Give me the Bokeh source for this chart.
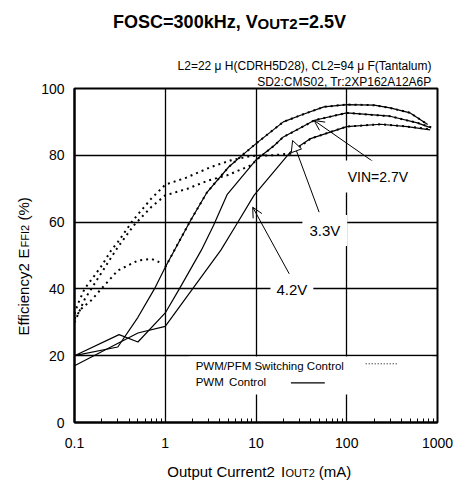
import math
from bokeh.plotting import figure
from bokeh.layouts import row, column
from bokeh.models import (Label, Arrow, OpenHead, NormalHead, BoxAnnotation,
                          FixedTicker, Range1d, Title)
from bokeh.embed import file_html
from bokeh.resources import INLINE

# ---------------- data ----------------
x_ticks = [0.1, 1, 10, 100, 1000]
x_tick_labels = ["0.1", "1", "10", "100", "1000"]
y_ticks = [0, 20, 40, 60, 80, 100]

# PWM control (solid)
pwm_a_x = [0.1, 0.3, 0.5, 0.76, 1.0, 1.9, 2.9, 5.0, 7.4, 10, 20, 31, 56, 100, 200, 300, 500, 780]
pwm_a_eff = [20, 22.6, 31.5, 40, 46.5, 60.5, 69, 76.5, 80.5, 83.5, 90, 92, 94.5, 95.2, 95, 94.2, 92.7, 89.2]

pwm_b_x = [0.1, 0.31, 0.5, 1.0, 1.43, 2.5, 3.4, 4.8, 9.9, 16, 20, 30, 44, 100, 300, 600, 850]
pwm_b_eff = [20, 26.3, 24.1, 32.8, 40, 51.6, 59, 68.2, 78.5, 83, 85.5, 88, 90.5, 92.7, 91.7, 89.7, 88.2]

pwm_c_x = [0.1, 0.5, 1.0, 2.0, 4.1, 6.0, 9.5, 24, 40, 100, 235, 464, 830]
pwm_c_eff = [17, 26.8, 28.8, 40, 51.6, 59, 68, 81, 85, 88.6, 89.3, 88.6, 87.6]

# PWM/PFM switching control (dotted)
pfm_a_x = [0.1, 0.118, 0.152, 0.197, 0.3, 0.5, 0.7, 0.86]
pfm_a_eff = [31, 34, 36.5, 40, 45.5, 48.5, 49, 48]
pfm_a_hi_x = [1.0, 1.9, 2.9, 5.0, 7.4, 10, 20, 31, 56, 100, 200, 300, 500, 780]
pfm_a_hi_eff = [46.5, 60.5, 69, 76.5, 80.5, 83.5, 90, 92, 94.5, 95.2, 95, 94.2, 92.7, 89.2]

pfm_b_x = [0.1, 0.13, 0.2, 0.3, 0.45, 0.7, 1.0, 1.76, 3.0, 4.8, 8.8, 10.5, 16, 20, 30, 44, 100, 300, 600, 900]
pfm_b_eff = [30, 37, 45, 52.5, 59, 64.5, 68, 70, 72.5, 74, 77, 79, 83, 85.5, 88, 90.5, 92.7, 91.7, 89.7, 88.2]

pfm_c_x = [0.1, 0.109, 0.129, 0.166, 0.2, 0.253, 0.3, 0.44, 0.7, 1.0, 1.7, 3.2, 5.3, 8.8, 15, 24, 40, 100, 235, 464, 850]
pfm_c_eff = [32.5, 35.5, 40, 44, 47, 51.5, 54, 60.5, 67, 71.2, 73.3, 76.5, 78.5, 79.8, 80, 80.5, 85, 88.6, 89.3, 88.6, 87.8]

condition_lines = ["L2=22 μ H(CDRH5D28), CL2=94 μ F(Tantalum)", "SD2:CMS02, Tr:2XP162A12A6P"]

# ---------------- layout (page pixels) ----------------
FONT = "Liberation Sans"
PW, PH = 456, 480
LW = 38                          # left strip (y title)
FX0, FY0, FW, FH = 73, 88, 364, 334   # plot frame in page pixels
MT = 34                          # top border of main plot (holds the conditions)
TH = FY0 - MT                    # top strip height (main title)
BY = 455                         # top of bottom strip (x title)
CW = PW - LW
BL = FX0 - LW                    # border left of main plot
BR = CW - BL - FW                # border right of main plot


def dx(X):
    """page pixel x -> data x of the main plot (log axis)"""
    return 10 ** (-1 + 4 * (X - FX0) / FW)


def dy(Y):
    """page pixel y -> data y of the main plot"""
    return 100 * (FY0 + FH - Y) / FH


def strip(w, h, x0, x1, y0, y1, bl=0, br=0):
    """blank figure whose frame uses page-pixel coordinates"""
    f = figure(width=w, height=h, x_range=Range1d(x0, x1), y_range=Range1d(y1, y0),
               title=None, output_backend="svg", toolbar_location=None,
               x_axis_location=None, y_axis_location=None,
               min_border_left=bl, min_border_right=br, min_border_top=0, min_border_bottom=0,
               outline_line_color=None, background_fill_color="white",
               border_fill_color="white")
    f.grid.visible = False
    return f


def lab(f, x, y, text, size="14px", align="left", baseline="middle", style="normal",
        angle=0, **kw):
    f.add_layout(Label(x=x, y=y, text=text, text_font=FONT, text_font_size=size,
                       text_align=align, text_baseline=baseline, text_font_style=style,
                       text_color="black", angle=angle, **kw))


# ---------------- main plot ----------------
p = figure(width=CW, height=BY - TH, x_axis_type="log", title=None,
           x_range=Range1d(0.1, 1000), y_range=Range1d(0, 100),
           output_backend="svg", toolbar_location=None,
           min_border_left=BL, min_border_right=BR,
           min_border_top=MT, min_border_bottom=BY - FY0 - FH,
           background_fill_color="white", border_fill_color="white",
           outline_line_color="black", outline_line_width=2)
# conditions: nearest line to the frame is added first
for line in reversed(condition_lines):
    p.add_layout(Title(text=line, align="right", offset=6, standoff=0,
                       vertical_align="bottom", text_font=FONT, text_font_size="12px",
                       text_font_style="normal", text_color="black",
                       text_line_height=1.0), "above")

minor = [m * 10 ** e for e in range(-1, 3) for m in range(2, 10)]
p.xaxis.ticker = FixedTicker(ticks=x_ticks, minor_ticks=minor)
p.xaxis.major_label_overrides = dict(zip(x_ticks, x_tick_labels))
p.yaxis.ticker = FixedTicker(ticks=y_ticks, minor_ticks=[])
for ax in (p.xaxis, p.yaxis):
    ax.axis_line_color = "black"
    ax.axis_line_width = 2
    ax.major_tick_in = 0
    ax.major_tick_out = 0
    ax.major_label_text_font = FONT
    ax.major_label_text_font_size = "14px"
    ax.major_label_text_color = "black"
p.xaxis.minor_tick_in = 4
p.xaxis.minor_tick_out = 0
p.xaxis.minor_tick_line_color = "black"
p.xaxis.major_label_standoff = 15
p.yaxis.major_label_standoff = 10
p.yaxis.minor_tick_line_color = None
for g in (p.xgrid, p.ygrid):
    g.grid_line_color = "black"
    g.grid_line_width = 1.3

# legend background (hides grid lines)
p.add_layout(BoxAnnotation(left=dx(188), right=dx(432), top=dy(356), bottom=dy(394),
                           fill_color="white", fill_alpha=1, line_alpha=0, level="underlay"))

# curves
for xs, ys in ((pwm_a_x, pwm_a_eff), (pwm_b_x, pwm_b_eff), (pwm_c_x, pwm_c_eff)):
    p.line(xs, ys, line_color="black", line_width=1.2)
for xs, ys in ((pfm_a_x, pfm_a_eff), (pfm_a_hi_x, pfm_a_hi_eff),
               (pfm_b_x, pfm_b_eff), (pfm_c_x, pfm_c_eff)):
    p.line(xs, ys, line_color="black", line_width=2, line_dash="2 4")

# legend samples and texts
p.segment(x0=[dx(365)], y0=[dy(363.3)], x1=[dx(398)], y1=[dy(363.3)],
          line_color="black", line_width=1, line_dash="1 2")
p.segment(x0=[dx(290)], y0=[dy(382.3)], x1=[dx(324)], y1=[dy(382.3)],
          line_color="black", line_width=1.2)
lab(p, dx(194.5), dy(365.5), "PWM/PFM Switching Control", size="11.5px")
lab(p, dx(194.5), dy(381), "PWM", size="11.5px")
lab(p, dx(228), dy(381), "Control", size="11.5px")

# annotation arrows
p.add_layout(Arrow(x_start=dx(373.3), y_start=dy(161.7), x_end=dx(313.3), y_end=dy(120),
                   end=OpenHead(size=10, line_width=1), line_width=1, line_color="black"))
p.add_layout(Arrow(x_start=dx(318.3), y_start=dy(211.7), x_end=dx(291.7), y_end=dy(140),
                   end=NormalHead(size=11, fill_color="white", line_width=1),
                   line_width=1, line_color="black"))
p.add_layout(Arrow(x_start=dx(288.3), y_start=dy(273.3), x_end=dx(251.7), y_end=dy(206.7),
                   end=OpenHead(size=10, line_width=1), line_width=1, line_color="black"))

# annotation labels with white background
lab(p, dx(339), dy(176), "VIN=2.7V", size="14px",
    background_fill_color="white", padding=8)
lab(p, dx(324), dy(230), "3.3V", size="15px", align="center",
    background_fill_color="white", padding=7)
lab(p, dx(291), dy(289), "4.2V", size="15px", align="center",
    background_fill_color="white", padding=6)

# ---------------- top strip: main title ----------------
t = strip(CW, TH, FX0, FX0 + FW, 0, TH, bl=BL, br=BR)
lab(t, 111.7, 21.2, "FOSC=300kHz, V", size="18px", style="bold")
lab(t, 256.5, 22.6, "OUT2", size="15px", style="bold")
lab(t, 297.5, 21.2, "=2.5V", size="18px", style="bold")

# ---------------- bottom strip: x title ----------------
b = strip(CW, PH - BY, FX0, FX0 + FW, BY, PH, bl=BL, br=BR)
lab(b, 166, 471.1, "Output Current2", size="15px")
lab(b, 280, 471.1, "I", size="15px")
lab(b, 284.5, 472.6, "OUT2", size="11px")
lab(b, 318, 471.1, "(mA)", size="15px")

# ---------------- left strip: y title ----------------
l = strip(LW, PH, 0, LW, 0, PH)
rot = math.pi / 2
lab(l, 22.6, 335, "Efficiency2", size="15px", angle=rot)
lab(l, 22.6, 258, "E", size="15px", angle=rot)
lab(l, 24.1, 247, "FFI2", size="11px", angle=rot)
lab(l, 22.6, 220, "(%)", size="15px", angle=rot)

layout = row(l, column(t, p, b, spacing=0), spacing=0)
open("out.html", "w").write(file_html(layout, INLINE))
